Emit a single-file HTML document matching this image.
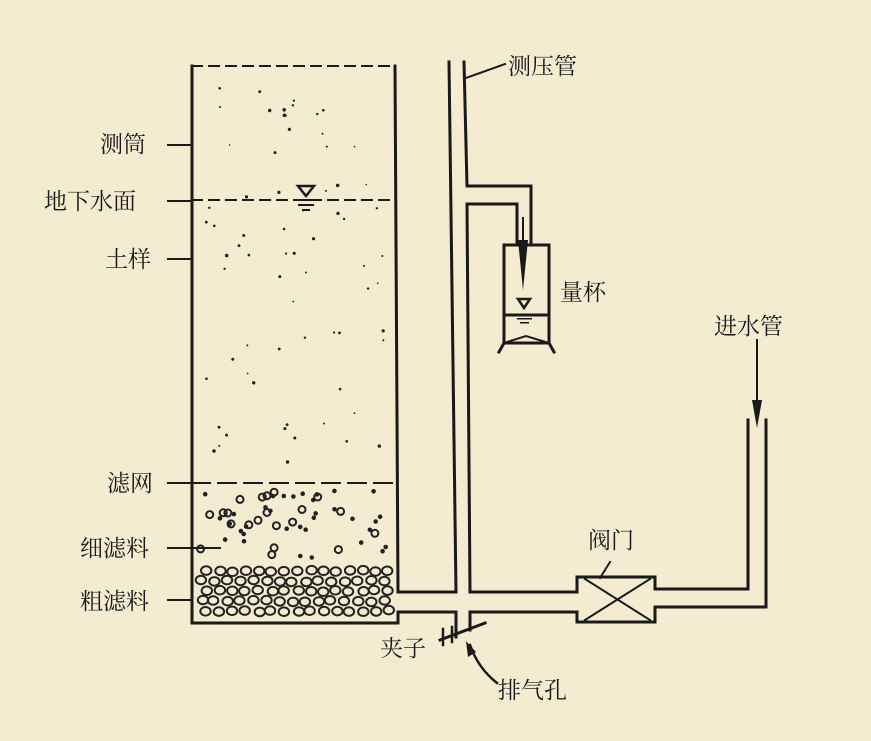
<!DOCTYPE html>
<html><head><meta charset="utf-8"><style>
html,body{margin:0;padding:0;background:#f3ecd0;}
svg{display:block}
text{font-family:"Liberation Serif","Noto Serif CJK SC","Noto Sans CJK SC",serif;font-size:23px;fill:#1a1a1a}
</style></head><body>
<svg id="s" width="871" height="741" viewBox="0 0 871 741" xmlns="http://www.w3.org/2000/svg">
<rect width="871" height="741" fill="#f3ecd0"/>
<g stroke="#1a1a1a" stroke-width="3" fill="none" stroke-linecap="square">
<!-- cylinder -->
<line x1="192" y1="66" x2="192" y2="623"/>
<line x1="395" y1="66" x2="398" y2="592"/>
<line x1="192" y1="623" x2="398" y2="623"/>
<line x1="398" y1="612" x2="398" y2="623"/>
<line x1="192" y1="66" x2="395" y2="66" stroke-dasharray="10,7" stroke-width="2"/>
<line x1="192" y1="200" x2="395" y2="200" stroke-dasharray="10,7" stroke-width="2"/>
<line x1="192" y1="483" x2="396" y2="483" stroke-dasharray="18,8" stroke-width="2"/>
<!-- leaders -->
<g stroke-width="2">
<line x1="168" y1="145" x2="192" y2="145"/>
<line x1="168" y1="201" x2="192" y2="201"/>
<line x1="168" y1="259" x2="192" y2="259"/>
<line x1="168" y1="483" x2="192" y2="483"/>
<line x1="168" y1="548" x2="220" y2="548"/>
<line x1="168" y1="600" x2="192" y2="600"/>
<line x1="466" y1="78" x2="505" y2="64"/>
<line x1="600" y1="578" x2="610" y2="562"/>
</g>
<!-- piezometer -->
<line x1="449" y1="62" x2="456" y2="592"/>
<line x1="464" y1="62" x2="467" y2="186"/>
<line x1="467" y1="204" x2="470" y2="592"/>
<!-- overflow -->
<polyline points="467,186 531,186 531,245"/>
<polyline points="467,204 517,204 517,245"/>
<line x1="523" y1="218" x2="523" y2="240" stroke-width="2"/>
<!-- cup -->
<rect x="504" y="245" width="45" height="98"/>
<line x1="504" y1="315" x2="549" y2="315"/>
<polyline points="504,343 499,352"/>
<polyline points="549,343 554,352"/>
<polyline points="504,343 526,336 549,343" stroke-width="2"/>
<!-- bottom pipes -->
<line x1="398" y1="592" x2="456" y2="592"/>
<line x1="398" y1="612" x2="456" y2="612"/>
<line x1="470" y1="592" x2="577" y2="592"/>
<line x1="470" y1="612" x2="577" y2="612"/>
<line x1="456" y1="612" x2="456" y2="637"/>
<line x1="470" y1="612" x2="470" y2="630"/>
<!-- valve -->
<polyline points="577,592 577,577 655,577 655,589"/>
<polyline points="577,612 577,622 655,622 655,607"/>
<line x1="585" y1="579" x2="650" y2="620" stroke-width="2"/>
<line x1="585" y1="620" x2="650" y2="579" stroke-width="2"/>
<polyline points="655,589 748,589 748,420"/>
<polyline points="655,607 766,607 766,420"/>
<line x1="757" y1="340" x2="757" y2="400" stroke-width="2"/>
<!-- clamp -->
<line x1="440" y1="640" x2="485" y2="623" stroke-width="3"/>
<line x1="443" y1="629" x2="443" y2="645" stroke-width="2.5"/>
<line x1="452" y1="627" x2="452" y2="642" stroke-width="2.5"/>
<path d="M497,683 Q478,668 470,645" stroke-width="2.5"/>
</g>
<g fill="#1a1a1a">
<polygon points="518,240 528,240 523,290"/>
<polygon points="752,400 762,400 757,428"/>
<polygon points="466,641 476,652 468,657"/>
<!-- water symbols -->
<polygon points="298,186 314,186 306,196" fill="none" stroke="#1a1a1a" stroke-width="2.5"/>
<rect x="294" y="199" width="24" height="2"/><rect x="298" y="204" width="16" height="2"/><rect x="302" y="209" width="8" height="2"/>
<polygon points="518,299 530,299 524,308" fill="none" stroke="#1a1a1a" stroke-width="2.5"/>
<rect x="517" y="318" width="15" height="1.5"/><rect x="520" y="322" width="9" height="1.5"/>
</g>
<g id="grain"></g>
<text x="100" y="152">测筒</text>
<text x="44" y="209">地下水面</text>
<text x="105" y="267">土样</text>
<text x="107" y="491">滤网</text>
<text x="80" y="556">细滤料</text>
<text x="80" y="609">粗滤料</text>
<text x="508" y="74">测压管</text>
<text x="560" y="300">量杯</text>
<text x="714" y="334">进水管</text>
<text x="588" y="548">阀门</text>
<text x="380" y="656">夹子</text>
<text x="498" y="698">排气孔</text>
</svg>
<script>
var g=document.getElementById('grain'),ns='http://www.w3.org/2000/svg',seed=7;
function r(){seed=(seed*9301+49297)%233280;return seed/233280;}
var h='';
for(var i=0;i<70;i++){h+='<circle cx="'+(205+r()*180).toFixed(1)+'" cy="'+(80+r()*395).toFixed(1)+'" r="'+(0.8+r()*1).toFixed(1)+'" fill="#222"/>';}
for(var i=0;i<55;i++){var big=r()<0.3;h+='<circle cx="'+(200+r()*190).toFixed(1)+'" cy="'+(490+r()*70).toFixed(1)+'" r="'+(big?3.5:1.3)+'" fill="'+(big?'none':'#222')+'" stroke="#222" stroke-width="2"/>';}
for(var y=570;y<=618;y+=10){for(var x=200+(y%20?5:0);x<392;x+=13){h+='<ellipse cx="'+(x+r()*3).toFixed(1)+'" cy="'+(y+r()*2).toFixed(1)+'" rx="5.2" ry="4.3" fill="none" stroke="#222" stroke-width="2"/>';}}
g.innerHTML=h;
</script>
</body></html>
